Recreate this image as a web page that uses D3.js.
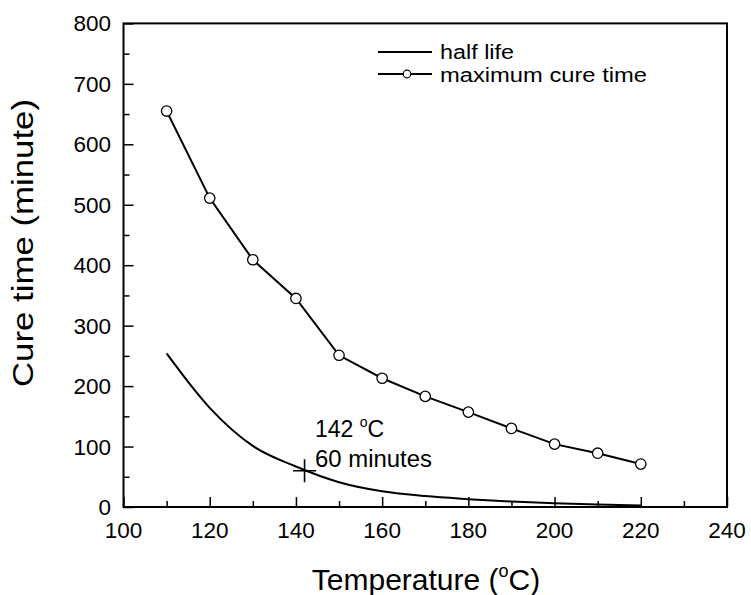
<!DOCTYPE html>
<html>
<head>
<meta charset="utf-8">
<script src="https://cdn.jsdelivr.net/npm/d3@7"></script>
<style>
  body { margin: 0; background: #fff; }
  svg { display: block; font-family: "Liberation Sans", Arial, sans-serif; }
</style>
</head>
<body>
<div id="chart"></div>
<script>
// data
const temps = [110, 120, 130, 140, 150, 160, 170, 180, 190, 200, 210, 220];
const maxCureTime = [655, 511, 409, 345, 251, 213, 183, 157, 130, 104, 89, 71];
const halfLife = [254, 164, 101, 67, 41, 26, 18, 13, 9, 6, 4, 2.5];
const xTicks = [100, 120, 140, 160, 180, 200, 220, 240];
const yTicks = [0, 100, 200, 300, 400, 500, 600, 700, 800];
const marker = { t: 142, v: 60 };

const width = 751, height = 595;

const svg = d3.select('#chart')
    .append('svg')
    .attr('width', width)
    .attr('height', height);

const x = d3.scaleLinear().domain([100, 240]).range([123.5, 727]);
const y = d3.scaleLinear().domain([0, 800]).range([507, 23.4]);

// minor ticks first (inward)
const xAxisMinor = d3.axisTop(x).tickValues(d3.range(110, 240, 20)).tickSize(6).tickFormat('');
const xAxis = d3.axisTop(x).tickValues(xTicks).tickSize(10).tickFormat('');
const yAxisMinor = d3.axisRight(y).tickValues(d3.range(50, 800, 100)).tickSize(6).tickFormat('');
const yAxis = d3.axisRight(y).tickValues(yTicks).tickSize(10).tickFormat('');

[xAxisMinor, xAxis].forEach(a => {
    svg.append('g').attr('transform', `translate(0,${y(0)})`).call(a)
        .call(g => g.select('.domain').remove())
        .selectAll('line').attr('stroke', '#000').attr('stroke-width', 1.5);
});
[yAxisMinor, yAxis].forEach(a => {
    svg.append('g').attr('transform', `translate(${x(100)},0)`).call(a)
        .call(g => g.select('.domain').remove())
        .selectAll('line').attr('stroke', '#000').attr('stroke-width', 1.5);
});

// tick labels
svg.append('g').selectAll('text')
    .data(xTicks)
    .enter()
    .append('text')
    .attr('x', d => x(d))
    .attr('y', 537.5)
    .attr('text-anchor', 'middle')
    .attr('font-size', 22.5)
    .text(d => d);

svg.append('g').selectAll('text')
    .data(yTicks)
    .enter()
    .append('text')
    .attr('x', 111)
    .attr('y', d => y(d) + 8)
    .attr('text-anchor', 'end')
    .attr('font-size', 22.5)
    .text(d => d);

// frame
svg.append('rect')
    .attr('x', x(100))
    .attr('y', y(800))
    .attr('width', x(240) - x(100))
    .attr('height', y(0) - y(800))
    .attr('fill', 'none')
    .attr('stroke', '#000')
    .attr('stroke-width', 2);

// half life curve
const line = d3.line()
    .x((d, i) => x(temps[i]))
    .y(d => y(d));

svg.append('path')
    .attr('d', line.curve(d3.curveMonotoneX)(halfLife))
    .attr('fill', 'none')
    .attr('stroke', '#000')
    .attr('stroke-width', 2);

// maximum cure time
svg.append('path')
    .attr('d', line.curve(d3.curveLinear)(maxCureTime))
    .attr('fill', 'none')
    .attr('stroke', '#000')
    .attr('stroke-width', 2);

svg.selectAll('.pt')
    .data(maxCureTime)
    .enter()
    .append('circle')
    .attr('class', 'pt')
    .attr('cx', (d, i) => x(temps[i]))
    .attr('cy', d => y(d))
    .attr('r', 5.2)
    .attr('fill', '#fff')
    .attr('stroke', '#000')
    .attr('stroke-width', 1.3);

// cross marker at 142 C / 60 min
const mx = x(marker.t), my = y(marker.v);
svg.append('path')
    .attr('d', `M${mx - 11.5},${my}H${mx + 11.5}M${mx},${my - 11.5}V${my + 11.5}`)
    .attr('stroke', '#000')
    .attr('stroke-width', 1.6);

const note = svg.append('text').attr('font-size', 23).attr('x', 315).attr('y', 437);
note.append('tspan').text('142 ');
note.append('tspan').attr('font-size', 14).attr('dy', -10).text('o');
note.append('tspan').attr('dy', 10).text('C');
svg.append('text').attr('font-size', 23).attr('x', 315).attr('y', 467)
    .attr('textLength', 117).attr('lengthAdjust', 'spacingAndGlyphs').text('60 minutes');

// legend
const lg = svg.append('g');
lg.append('line').attr('x1', 378).attr('x2', 432).attr('y1', 52).attr('y2', 52)
    .attr('stroke', '#000').attr('stroke-width', 2);
lg.append('text').attr('x', 440).attr('y', 59).attr('font-size', 20)
    .attr('textLength', 74).attr('lengthAdjust', 'spacingAndGlyphs').text('half life');
lg.append('line').attr('x1', 378).attr('x2', 432).attr('y1', 74).attr('y2', 74)
    .attr('stroke', '#000').attr('stroke-width', 2);
lg.append('circle').attr('cx', 407).attr('cy', 74).attr('r', 3.8)
    .attr('fill', '#fff').attr('stroke', '#000').attr('stroke-width', 1.2);
lg.append('text').attr('x', 440).attr('y', 81.5).attr('font-size', 20)
    .attr('textLength', 207).attr('lengthAdjust', 'spacingAndGlyphs').text('maximum cure time');

// axis titles
const xt = svg.append('text').attr('x', 426).attr('y', 590).attr('text-anchor', 'middle').attr('font-size', 30);
xt.append('tspan').text('Temperature (');
xt.append('tspan').attr('font-size', 18).attr('dy', -13).text('o');
xt.append('tspan').attr('dy', 13).text('C)');

svg.append('text')
    .attr('transform', 'translate(33,243) rotate(-90)')
    .attr('text-anchor', 'middle')
    .attr('font-size', 30)
    .attr('textLength', 288)
    .attr('lengthAdjust', 'spacingAndGlyphs')
    .text('Cure time (minute)');
</script>
</body>
</html>
